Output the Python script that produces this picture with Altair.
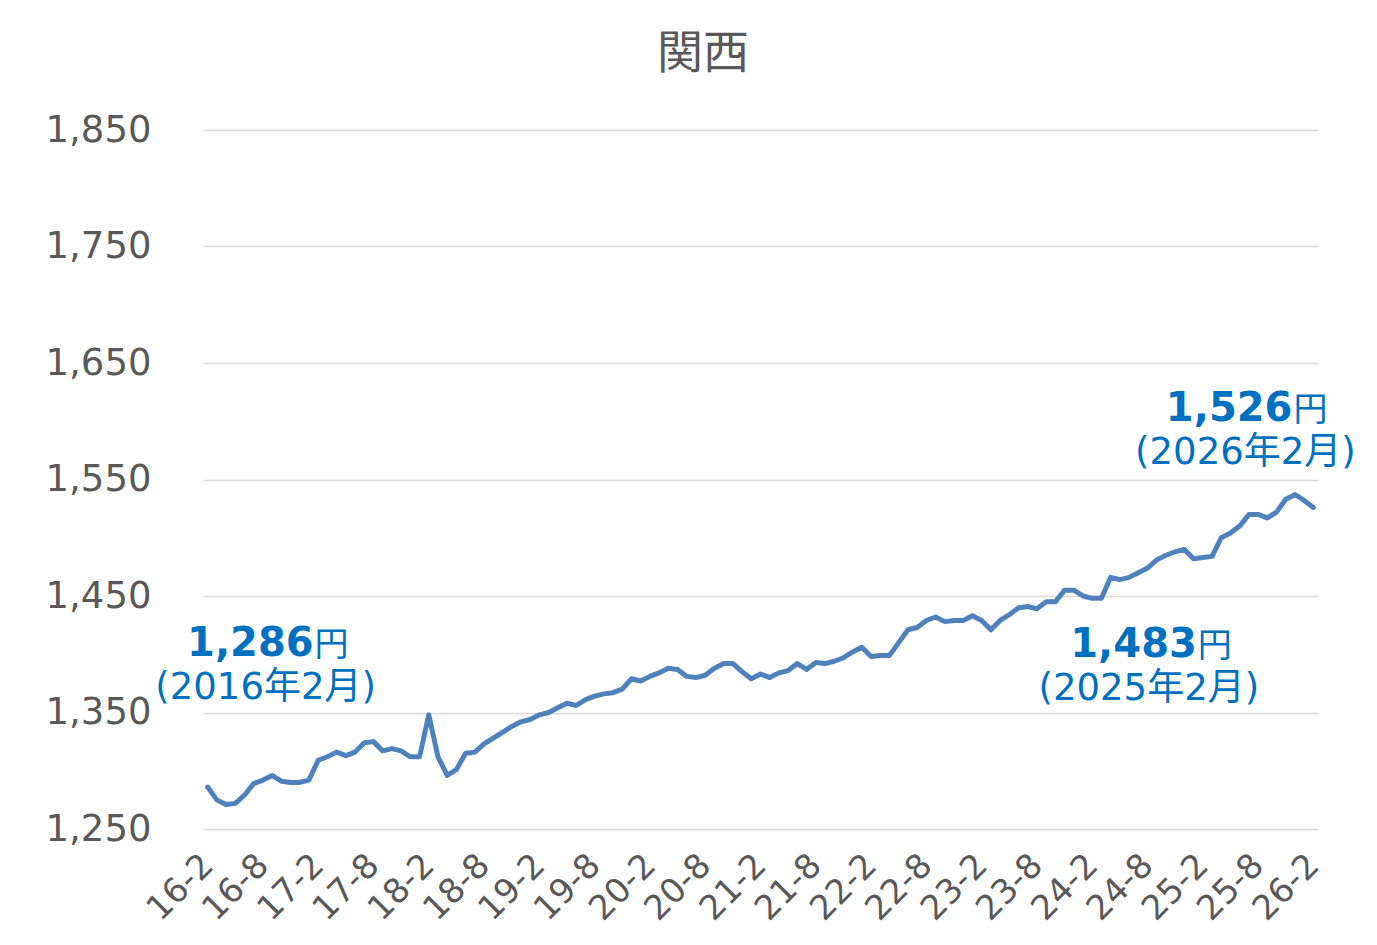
import altair as alt
import pandas as pd

# ---- data ----
title_text = "関西"

months = []
for yy in range(16, 27):
    for mm in range(1, 13):
        if (yy == 16 and mm < 2) or (yy == 26 and mm > 2):
            continue
        months.append(f"{yy}-{mm}")

values = [
    1286, 1275, 1271, 1272, 1279, 1289, 1292, 1296, 1291, 1290, 1290, 1292,
    1309, 1312, 1316, 1313, 1316, 1324, 1325, 1317, 1319, 1317, 1312, 1312,
    1348, 1312, 1296, 1301, 1315, 1316, 1323, 1328, 1333, 1338, 1342, 1344,
    1348, 1350, 1354, 1358, 1356, 1361, 1364, 1366, 1367, 1370, 1379, 1377,
    1381, 1384, 1388, 1387, 1381, 1380, 1382, 1388, 1392, 1392, 1385, 1379,
    1383, 1380, 1384, 1386, 1392, 1387, 1393, 1392, 1394, 1397, 1402, 1406,
    1398, 1399, 1399, 1410, 1421, 1423, 1429, 1432, 1428, 1429, 1429, 1433,
    1429, 1421, 1429, 1434, 1440, 1441, 1439, 1445, 1445, 1455, 1455, 1450,
    1448, 1448, 1466, 1464, 1466, 1470, 1474, 1481, 1485, 1488, 1490, 1482,
    1483, 1484, 1500, 1504, 1510, 1520, 1520, 1517, 1522, 1533, 1537, 1532,
    1526,
]

tick_labels = ["16-2", "16-8", "17-2", "17-8", "18-2", "18-8", "19-2", "19-8",
               "20-2", "20-8", "21-2", "21-8", "22-2", "22-8", "23-2", "23-8",
               "24-2", "24-8", "25-2", "25-8", "26-2"]
y_ticks = [1250, 1350, 1450, 1550, 1650, 1750, 1850]

ann_months = ["16-2", "25-2", "26-2"]
ann_values = [1286, 1483, 1526]
ann_numbers = ["1,286", "1,483", "1,526"]
ann_dates = ["(2016年2月)", "(2025年2月)", "(2026年2月)"]
# label offsets (dx, dy) relative to the anchored data point: number, date
ann_offsets = [((106, -131), (58, -88)),
               ((-6, 99), (-54, 142)),
               ((-21, -86), (-68, -43))]

df = pd.DataFrame({"month": months, "value": values})

GRAY = "#595959"
BLUE = "#0070c0"
LABEL_FONT = "DejaVu Sans"

x_scale = alt.Scale(domain=months, type="point", padding=0.5)
y_scale = alt.Scale(domain=[1250, 1850], nice=False, zero=False)

x_axis = alt.Axis(values=tick_labels, labelAngle=-45, title=None,
                  labelAlign="right", labelBaseline="middle",
                  labelFont=LABEL_FONT, labelFontSize=34,
                  labelColor=GRAY, domain=False, ticks=False,
                  grid=False, labelPadding=31)
y_axis = alt.Axis(values=y_ticks, format=",d", title=None,
                  grid=True, gridColor="#d9d9d9", gridWidth=1.5,
                  domain=False, ticks=False, labelPadding=52,
                  labelFont=LABEL_FONT, labelFontSize=37,
                  labelColor=GRAY)


def xy():
    return dict(x=alt.X("month:O", scale=x_scale, axis=x_axis),
                y=alt.Y("value:Q", scale=y_scale, axis=y_axis))


line = alt.Chart(df).mark_line(
    color="#4f81bd", strokeWidth=5, strokeCap="round", strokeJoin="round"
).encode(**xy())

layers = [line]
for m, v, num, date, (noff, doff) in zip(ann_months, ann_values, ann_numbers,
                                         ann_dates, ann_offsets):
    adf = pd.DataFrame({"month": [m], "value": [v], "num": [num],
                        "yen": ["円"], "date": [date]})
    layers.append(alt.Chart(adf).mark_text(
        align="right", baseline="alphabetic", dx=noff[0], dy=noff[1],
        font="DejaVu Sans", fontSize=40, fontWeight="bold", color=BLUE
    ).encode(text="num:N", **xy()))
    layers.append(alt.Chart(adf).mark_text(
        align="left", baseline="alphabetic", dx=noff[0] + 1, dy=noff[1],
        font="Noto Sans CJK JP", fontSize=34, color=BLUE
    ).encode(text="yen:N", **xy()))
    layers.append(alt.Chart(adf).mark_text(
        align="center", baseline="alphabetic", dx=doff[0], dy=doff[1],
        font="DejaVu Sans, Noto Sans CJK JP", fontSize=37, color=BLUE
    ).encode(text="date:N", **xy()))

title = alt.Chart(pd.DataFrame({"t": [title_text]})).mark_text(
    font="Noto Sans CJK JP", fontSize=46, color=GRAY, align="center",
    baseline="alphabetic"
).encode(text="t:N", x=alt.value(500), y=alt.value(-62))
layers.append(title)

chart = alt.layer(*layers).properties(
    width=1115, height=699,
    autosize=alt.AutoSizeParams(type="none"),
    padding={"left": 195, "top": 122, "right": 45, "bottom": 104},
).configure_view(stroke=None)

chart.save("out.html", embed_options={"renderer": "svg", "actions": False})
